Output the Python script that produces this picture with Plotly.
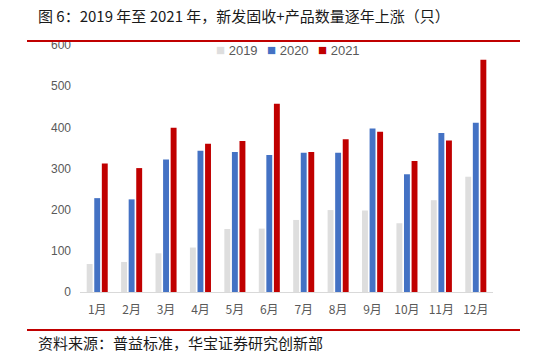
import plotly.graph_objects as go

months = ["1月", "2月", "3月", "4月", "5月", "6月", "7月", "8月", "9月", "10月", "11月", "12月"]
v2019 = [68, 73, 94, 108, 153, 154, 175, 199, 198, 167, 223, 280]
v2020 = [228, 225, 322, 343, 340, 333, 338, 338, 397, 286, 386, 411]
v2021 = [312, 301, 399, 360, 367, 457, 340, 371, 389, 318, 368, 564]
series_names = ["2019", "2020", "2021"]
colors = ["#DEDEDE", "#4472C4", "#C00000"]

L, R, T, B = 80, 54, 45, 68
W, H = 547, 360
pw, ph = W - L - R, H - T - B

def px(x):
    return (x - L) / pw

def py(y):
    return (H - B - y) / ph

fig = go.Figure()
for name, vals, c in zip(series_names, [v2019, v2020, v2021], colors):
    fig.add_trace(go.Bar(x=months, y=vals, name=name, marker_color=c,
                         marker_line_width=0, showlegend=False))

font_cjk = "Noto Sans CJK SC"
legend_x = [214, 265, 316]
legend_ann = [
    dict(text=f"<span style='color:{c};font-size:15px'>■</span> {n}", xref="paper", yref="paper",
         x=px(lx), y=py(50), xanchor="left", yanchor="middle", showarrow=False,
         font=dict(family="Liberation Sans", size=13, color="#595959"))
    for n, c, lx in zip(series_names, colors, legend_x)
]

fig.update_layout(
    width=W, height=H,
    margin=dict(l=L, r=R, t=T, b=B),
    paper_bgcolor="white", plot_bgcolor="white",
    barmode="group", bargap=0.34, bargroupgap=0.22,
    showlegend=False,
    xaxis=dict(showline=True, linecolor="#D9D9D9", linewidth=1, ticks="",
               ticklabelstandoff=7,
               tickfont=dict(family=font_cjk, size=12, color="#595959"),
               showgrid=False),
    yaxis=dict(range=[0, 600], dtick=100, showgrid=False, showline=False, zeroline=False,
               ticks="", ticklabelstandoff=8,
               tickfont=dict(family="Liberation Sans", size=12, color="#595959")),
    shapes=[
        dict(type="line", xref="paper", yref="paper", x0=px(27), x1=px(520),
             y0=py(41), y1=py(41), layer="above", line=dict(color="#C00000", width=2)),
        dict(type="line", xref="paper", yref="paper", x0=px(27), x1=px(520),
             y0=py(330), y1=py(330), layer="above", line=dict(color="#C00000", width=2)),
    ],
    annotations=[
        dict(text="图 6：2019 年至 2021 年，新发固收+产品数量逐年上涨（只）", xref="paper", yref="paper",
             x=px(36), y=py(16), xanchor="left", yanchor="middle", showarrow=False,
             font=dict(family=font_cjk, size=15, color="#1a1a1a")),
        dict(text="资料来源：普益标准，华宝证券研究创新部", xref="paper", yref="paper",
             x=px(36), y=py(342), xanchor="left", yanchor="middle", showarrow=False,
             font=dict(family=font_cjk, size=15, color="#1a1a1a")),
    ] + legend_ann,
)
fig.write_html("out.html", config={"displayModeBar": False},
               post_script="document.body.style.margin='0px';")
